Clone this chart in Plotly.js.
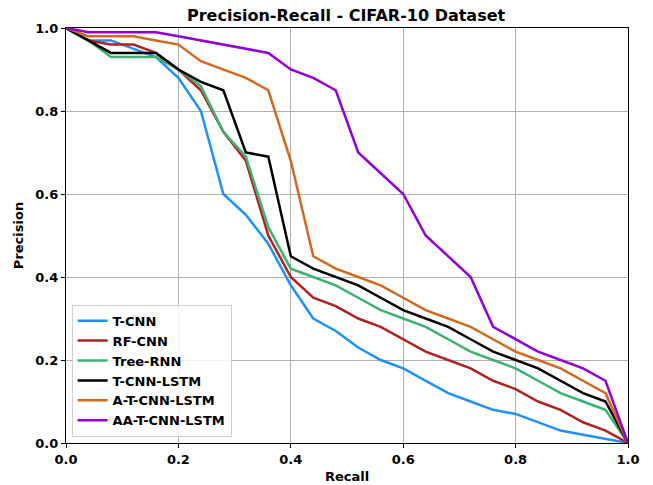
<!DOCTYPE html>
<html><head><meta charset="utf-8">
<script src="https://cdn.plot.ly/plotly-3.0.1.min.js"></script>
<style>html,body{margin:0;padding:0;background:#fff}#chart{width:653px;height:485px}</style>
</head><body><div id="chart"></div>
<script>
const recall = [0,0.04,0.08,0.12,0.16,0.2,0.24,0.28,0.32,0.36,0.4,0.44,0.48,0.52,0.56,0.6,0.64,0.68,0.72,0.76,0.8,0.84,0.88,0.92,0.96,1.0];
const tcnn    = [1.0,0.97,0.97,0.95,0.93,0.88,0.80,0.60,0.55,0.48,0.38,0.30,0.27,0.23,0.20,0.18,0.15,0.12,0.10,0.08,0.07,0.05,0.03,0.02,0.01,0.0];
const rfcnn   = [1.0,0.97,0.96,0.96,0.94,0.90,0.85,0.75,0.68,0.50,0.40,0.35,0.33,0.30,0.28,0.25,0.22,0.20,0.18,0.15,0.13,0.10,0.08,0.05,0.03,0.0];
const treernn = [1.0,0.97,0.93,0.93,0.93,0.90,0.86,0.75,0.69,0.52,0.42,0.40,0.38,0.35,0.32,0.30,0.28,0.25,0.22,0.20,0.18,0.15,0.12,0.10,0.08,0.0];
const tcnnlstm = [1.0,0.97,0.94,0.94,0.94,0.90,0.87,0.85,0.70,0.69,0.45,0.42,0.40,0.38,0.35,0.32,0.30,0.28,0.25,0.22,0.20,0.18,0.15,0.12,0.10,0.0];
const atcnnlstm = [1.0,0.98,0.98,0.98,0.97,0.96,0.92,0.90,0.88,0.85,0.68,0.45,0.42,0.40,0.38,0.35,0.32,0.30,0.28,0.25,0.22,0.20,0.18,0.15,0.12,0.0];
const aatcnnlstm = [1.0,0.99,0.99,0.99,0.99,0.98,0.97,0.96,0.95,0.94,0.90,0.88,0.85,0.70,0.65,0.60,0.50,0.45,0.40,0.28,0.25,0.22,0.20,0.18,0.15,0.0];
const names = ["T-CNN","RF-CNN","Tree-RNN","T-CNN-LSTM","A-T-CNN-LSTM","AA-T-CNN-LSTM"];
const series = [tcnn, rfcnn, treernn, tcnnlstm, atcnnlstm, aatcnnlstm];
const colors = ["#1E90FF","#B22222","#3CB371","#000000","#D2691E","#9400D3"];
const tickVals = [0,0.2,0.4,0.6,0.8,1.0];
const tickText = ["0.0","0.2","0.4","0.6","0.8","1.0"];

const font = "DejaVu Sans, sans-serif";
const traces = series.map((s,i)=>({
  x: recall, y: s, name: names[i], type:"scatter", mode:"lines",
  line:{color:colors[i], width:2.5}
}));
const axisCommon = {
  range:[0,1], tickvals:tickVals, ticktext:tickText,
  showgrid:true, gridcolor:"#b0b0b0", gridwidth:1,
  showline:true, linecolor:"#000", linewidth:1.2, mirror:true,
  ticks:"outside", ticklen:4, tickcolor:"#000",
  tickfont:{family:font, size:13, color:"#000", weight:"bold"},
  zeroline:false, fixedrange:true
};
const layout = {
  width:653, height:485,
  margin:{l:66, r:25, t:28, b:42},
  paper_bgcolor:"#fff", plot_bgcolor:"#fff",
  title:{text:"<b>Precision-Recall - CIFAR-10 Dataset</b>", font:{family:font, size:16, color:"#000"}, x:0.53, xanchor:"center", y:0.969, yanchor:"middle"},
  xaxis: Object.assign({}, axisCommon, {title:{text:"<b>Recall</b>", font:{family:font, size:13, color:"#000"}, standoff:6}}),
  yaxis: Object.assign({}, axisCommon, {title:{text:"<b>Precision</b>", font:{family:font, size:13, color:"#000"}, standoff:8}}),
  legend:{x:0.01, y:0.015, xanchor:"left", yanchor:"bottom", bgcolor:"rgba(255,255,255,0.85)", bordercolor:"#d0d0d0", borderwidth:1,
    font:{family:font, size:13, color:"#000", weight:"bold"}, tracegroupgap:0},
  showlegend:true
};
Plotly.newPlot("chart", traces, layout, {displayModeBar:false, staticPlot:true});
</script></body></html>
